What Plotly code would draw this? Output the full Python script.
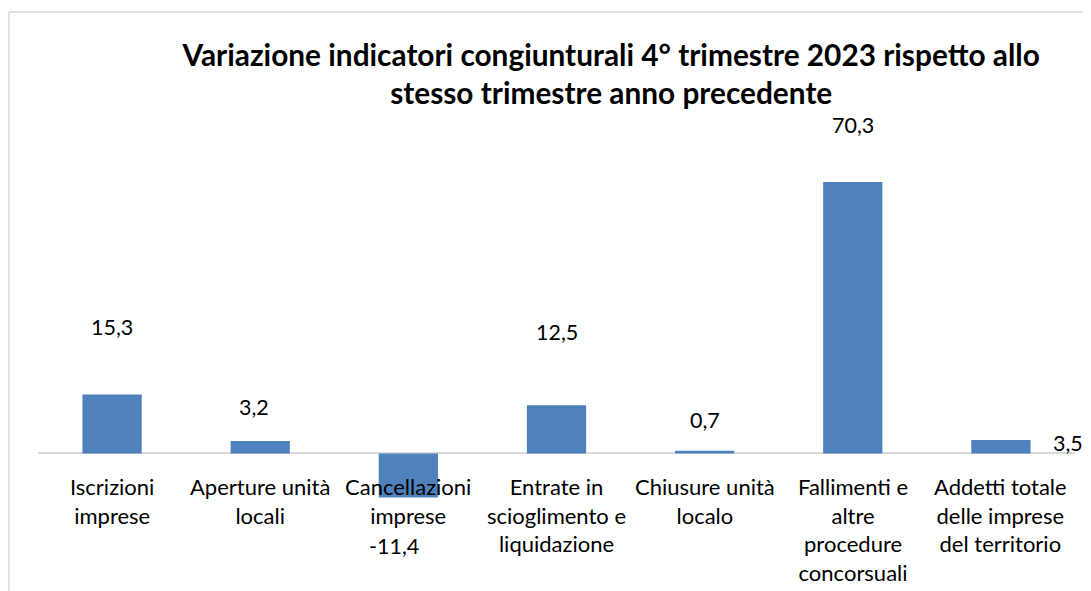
import plotly.graph_objects as go

categories = [
    "Iscrizioni<br>imprese",
    "Aperture unità<br>locali",
    "Cancellazioni<br>imprese",
    "Entrate in<br>scioglimento e<br>liquidazione",
    "Chiusure unità<br>localo",
    "Fallimenti e<br>altre<br>procedure<br>concorsuali",
    "Addetti totale<br>delle imprese<br>del territorio",
]
values = [15.3, 3.2, -11.4, 12.5, 0.7, 70.3, 3.5]

# label placement offsets (pixels) relative to bar end
label_dx = [0, -6, -14, 0, 0, 0, 67]
label_dy = [67, 34, -49, 73, 31, 57, -3]

FONT = "Lato"
BAR = "#4F81BD"
GRID = "#D9D9D9"

x_idx = list(range(len(categories)))

fig = go.Figure()
fig.add_trace(go.Bar(
    x=x_idx, y=values, marker=dict(color=BAR, line=dict(width=0)),
    hoverinfo="skip", showlegend=False,
))

annotations = []
for i, (c, v) in enumerate(zip(categories, values)):
    annotations.append(dict(
        x=i, y=v, xref="x", yref="y", text=f"{v:.1f}".replace(".", ","),
        showarrow=False, xanchor="center", yanchor="middle",
        xshift=label_dx[i], yshift=label_dy[i],
        font=dict(family=FONT, size=21.5, color="#000000"),
    ))
    annotations.append(dict(
        x=i, y=0, xref="x", yref="y", text=c, showarrow=False,
        xanchor="center", yanchor="top", yshift=-18, align="center",
        font=dict(family=FONT, size=22, color="#000000"),
    ))

# page has an 8px body margin, so the figure is drawn 8px smaller
fig.update_layout(
    width=1083, height=583,
    margin=dict(l=30, r=16, t=98, b=41),
    paper_bgcolor="white", plot_bgcolor="white",
    bargap=0.6,
    title=dict(
        text="<b>Variazione indicatori congiunturali 4° trimestre 2023 rispetto allo<br>stesso trimestre anno precedente</b>",
        x=0.557, xanchor="center", y=0.901, yanchor="middle",
        font=dict(family=FONT, size=29.8, color="#000000"),
    ),
    xaxis=dict(range=[-0.5, len(categories) - 0.5], showticklabels=False,
               showgrid=False, zeroline=False, showline=False, ticks=""),
    yaxis=dict(range=[-25, 90], showticklabels=False, showgrid=False,
               zeroline=True, zerolinecolor=GRID, zerolinewidth=1.5,
               showline=False, ticks=""),
    annotations=annotations,
    shapes=[
        dict(type="line", xref="paper", yref="paper", x0=-0.028, x1=-0.028,
             y0=1.2117, y1=-0.2, line=dict(color=GRID, width=1.5)),
        dict(type="line", xref="paper", yref="paper", x0=-0.028, x1=1.1,
             y0=1.2117, y1=1.2117, line=dict(color=GRID, width=1.5)),
    ],
)

fig.write_html("out.html")
